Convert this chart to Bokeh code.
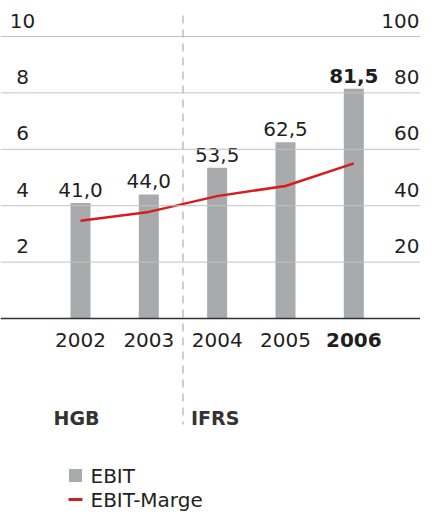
from bokeh.plotting import figure
from bokeh.models import Range1d, Span
from bokeh.embed import file_html
from bokeh.resources import INLINE
from bokeh.core.properties import value

# ---- data ----
years = ["2002", "2003", "2004", "2005", "2006"]
ebit = [41.0, 44.0, 53.5, 62.5, 81.5]            # right axis (EBIT)
ebit_marge = [3.47, 3.78, 4.34, 4.70, 5.50]      # left axis (EBIT-Marge)
left_ticks = [2, 4, 6, 8, 10]
right_ticks = [20, 40, 60, 80, 100]
regimes = ["HGB", "IFRS"]
legend_labels = ["EBIT", "EBIT-Marge"]

# ---- layout (pixels) ----
W, H = 420, 514
X0, DX = 80.0, 68.33      # first bar centre, bar spacing
Y0, PXU = 318.0, 2.82     # baseline px from top, px per EBIT unit
FONT = "DejaVu Sans"
TXT = "#1f1f1f"
BAR = "#a9aaac"
RED = "#d71c20"

xr = Range1d(-X0 / DX, (W - X0) / DX)
yr = Range1d(-(H - Y0) / PXU, Y0 / PXU)


def X(px):
    return (px - X0) / DX


def Y(px):
    return (Y0 - px) / PXU


p = figure(width=W, height=H, x_range=xr, y_range=yr,
           output_backend="svg", toolbar_location=None,
           min_border=0, outline_line_color=None,
           x_axis_location=None, y_axis_location=None)
p.extra_y_ranges = {"margin": Range1d(yr.start / 10, yr.end / 10)}
p.grid.visible = False
p.background_fill_color = "white"
p.border_fill_color = "white"

idx = list(range(len(years)))

# gridlines
for v in right_ticks:
    p.add_layout(Span(location=v, dimension="width",
                      line_color="#c2c2c2", line_width=1))
p.add_layout(Span(location=0, dimension="width",
                  line_color="#333333", line_width=1.5))

# bars
p.vbar(x=idx, top=ebit, width=20 / DX, fill_color=BAR, line_color=None)

# HGB / IFRS separator
p.segment(x0=[1.5], y0=[Y(15)], x1=[1.5], y1=[Y(424)],
          line_color="#9c9c9c", line_width=1, line_dash="8 6")

# margin line
p.line(x=idx, y=ebit_marge, y_range_name="margin",
       line_color=RED, line_width=2.5)

common = dict(text_font=value(FONT), text_font_size="20px", text_color=TXT,
              text_baseline="middle")

# left tick labels (margin)
p.text(x=[X(22)] * len(left_ticks), y=left_ticks,
       text=[str(t) for t in left_ticks], y_range_name="margin",
       text_align="center", y_offset=-16, **common)
# right tick labels (EBIT)
p.text(x=[X(419)] * len(right_ticks), y=right_ticks,
       text=[str(t) for t in right_ticks],
       text_align="right", y_offset=-16, **common)

# value labels
lab = [f"{v:.1f}".replace(".", ",") for v in ebit]
p.text(x=idx[:-1], y=ebit[:-1], text=lab[:-1], text_align="center",
       y_offset=-13, **common)
p.text(x=idx[-1:], y=ebit[-1:], text=lab[-1:], text_align="center",
       y_offset=-13, text_font_style="bold", **common)

# year labels
p.text(x=idx[:-1], y=[0] * (len(years) - 1), text=years[:-1], text_align="center",
       y_offset=21, **common)
p.text(x=idx[-1:], y=[0], text=years[-1:], text_align="center",
       y_offset=21, text_font_style="bold", **common)

# regime labels
p.text(x=[0], y=[0], text=[regimes[0]], x_offset=-27, y_offset=99,
       text_align="left", text_baseline="middle", text_font=value(FONT),
       text_font_size="19px", text_font_style="bold", text_color="#333333")
p.text(x=[1.5], y=[0], text=[regimes[1]], x_offset=8, y_offset=99,
       text_align="left", text_baseline="middle", text_font=value(FONT),
       text_font_size="19px", text_font_style="bold", text_color="#333333")

# legend (manual)
p.scatter(x=[X(75)], y=[Y(475)], marker="square", size=13,
          fill_color=BAR, line_color=None)
p.segment(x0=[X(68)], y0=[Y(499)], x1=[X(82)], y1=[Y(499)],
          line_color=RED, line_width=3)
p.text(x=[X(90)], y=[Y(475)], text=legend_labels[:1],
       text_align="left", **common)
p.text(x=[X(90)], y=[Y(499)], text=legend_labels[1:],
       text_align="left", **common)

open("out.html", "w").write(file_html(p, INLINE))
